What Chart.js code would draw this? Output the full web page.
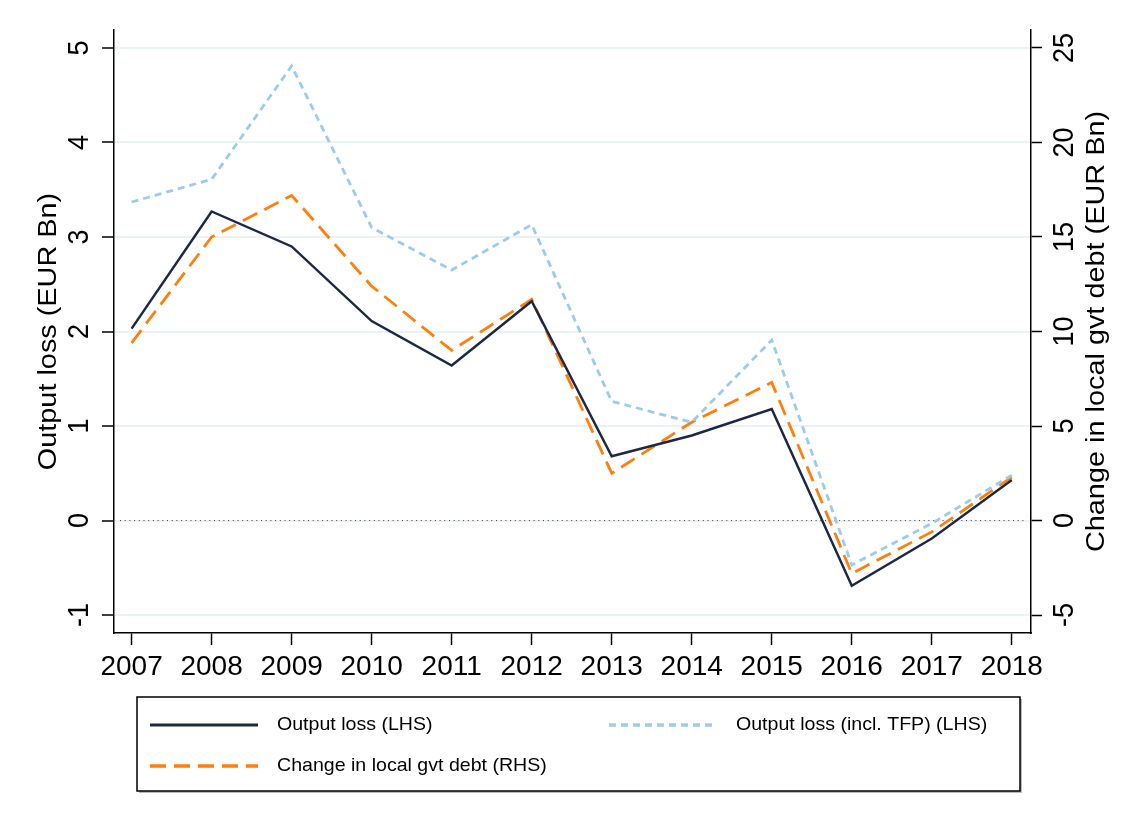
<!DOCTYPE html>
<html>
<head>
<meta charset="utf-8">
<script src="https://cdn.jsdelivr.net/npm/chart.js@4"></script>
<style>
  body { margin: 0; background: #fff; }
  #wrap { width: 1144px; height: 832px; }
</style>
</head>
<body>
<div id="wrap"><canvas id="myChart"></canvas></div>
<script>
// years along the x-axis
var years = [2007, 2008, 2009, 2010, 2011, 2012, 2013, 2014, 2015, 2016, 2017, 2018];
// left axis series (EUR Bn)
var outputLoss = [2.03, 3.27, 2.90, 2.11, 1.64, 2.32, 0.68, 0.90, 1.18, -0.69, -0.19, 0.43];
var outputLossTfp = [3.37, 3.61, 4.81, 3.10, 2.65, 3.13, 1.26, 1.04, 1.91, -0.47, -0.03, 0.48];
// right axis series (EUR Bn)
var debtChange = [9.4, 15.0, 17.2, 12.4, 9.0, 11.7, 2.5, 5.2, 7.3, -2.8, -0.6, 2.3];
// tick labels
var leftTicks = [-1, 0, 1, 2, 3, 4, 5];
var rightTicks = [-5, 0, 5, 10, 15, 20, 25];

var FONT = '"Liberation Sans", Arial, sans-serif';

function pts(vals) {
  return years.map(function (y, i) { return { x: y, y: vals[i] }; });
}

// text turned to read bottom-to-top, sx stretches along the text
function rotText(ctx, txt, x, y, sx) {
  ctx.save();
  ctx.translate(x, y);
  ctx.rotate(-Math.PI / 2);
  ctx.scale(sx || 1, 1);
  ctx.fillText(txt, 0, 0);
  ctx.restore();
}

// zero reference line (dotted)
var zeroLine = {
  id: 'zeroLine',
  beforeDatasetsDraw: function (chart) {
    var ctx = chart.ctx, a = chart.chartArea;
    var y0 = chart.scales.yLeft.getPixelForValue(0);
    ctx.save();
    ctx.strokeStyle = '#444';
    ctx.lineWidth = 1;
    ctx.setLineDash([1, 3.7]);
    ctx.beginPath();
    ctx.moveTo(a.left + 6, y0);
    ctx.lineTo(a.right - 6, y0);
    ctx.stroke();
    ctx.restore();
  }
};

// rotated y tick labels, axis titles and boxed legend
var extras = {
  id: 'extras',
  afterDraw: function (chart) {
    var ctx = chart.ctx;
    var yL = chart.scales.yLeft, yR = chart.scales.yRight;
    var mid = (chart.chartArea.top + chart.chartArea.bottom) / 2;
    ctx.save();
    ctx.fillStyle = '#000';
    ctx.textAlign = 'center';
    ctx.textBaseline = 'middle';
    ctx.font = '30px ' + FONT;
    leftTicks.forEach(function (v) { rotText(ctx, String(v), 80, yL.getPixelForValue(v), 0.9); });
    rightTicks.forEach(function (v) { rotText(ctx, String(v), 1065, yR.getPixelForValue(v), 0.9); });
    ctx.font = '26px ' + FONT;
    rotText(ctx, 'Output loss (EUR Bn)', 49, mid, 1.11);
    rotText(ctx, 'Change in local gvt debt (EUR Bn)', 1097, mid, 1.11);

    // legend box
    var bx = 137, by = 697, bw = 883, bh = 94;
    ctx.fillStyle = '#bbb';
    ctx.fillRect(bx + 2, by + 2, bw, bh);
    ctx.fillStyle = '#fff';
    ctx.fillRect(bx, by, bw, bh);
    ctx.strokeStyle = '#000';
    ctx.lineWidth = 1.5;
    ctx.strokeRect(bx, by, bw, bh);

    var items = [
      { ds: 0, x: 150, y: 725 },
      { ds: 1, x: 609, y: 725 },
      { ds: 2, x: 150, y: 766 }
    ];
    ctx.font = '19px ' + FONT;
    ctx.textAlign = 'left';
    items.forEach(function (it) {
      var d = chart.data.datasets[it.ds];
      ctx.save();
      ctx.strokeStyle = d.borderColor;
      ctx.lineWidth = d.borderWidth + 0.5;
      ctx.setLineDash(d.borderDash || []);
      ctx.beginPath();
      ctx.moveTo(it.x, it.y);
      ctx.lineTo(it.x + 108, it.y);
      ctx.stroke();
      ctx.restore();
      ctx.fillStyle = '#000';
      ctx.save();
      ctx.translate(it.x + 127, it.y);
      ctx.scale(1.03, 1);
      ctx.fillText(d.label, 0, 0);
      ctx.restore();
    });
    ctx.restore();
  }
};

var ctx = document.getElementById('myChart');

var myChart = new Chart(ctx, {
  type: 'line',
  data: {
    datasets: [
      {
        label: 'Output loss (LHS)',
        data: pts(outputLoss),
        borderColor: '#1c2844',
        borderWidth: 2.5,
        yAxisID: 'yLeft',
        pointRadius: 0,
        fill: false
      },
      {
        label: 'Output loss (incl. TFP) (LHS)',
        data: pts(outputLossTfp),
        borderColor: '#9ccbeb',
        borderWidth: 2.8,
        borderDash: [7, 5],
        yAxisID: 'yLeft',
        pointRadius: 0,
        fill: false
      },
      {
        label: 'Change in local gvt debt (RHS)',
        data: pts(debtChange),
        borderColor: '#ff7f0e',
        borderWidth: 2.8,
        borderDash: [16, 8],
        yAxisID: 'yRight',
        pointRadius: 0,
        fill: false
      }
    ]
  },
  options: {
    responsive: true,
    maintainAspectRatio: false,
    animation: false,
    layout: { padding: { top: 30, left: 0, right: 0, bottom: 0 } },
    plugins: {
      legend: { display: false },
      tooltip: { enabled: false }
    },
    scales: {
      x: {
        type: 'linear',
        min: 2006.78,
        max: 2018.24,
        afterBuildTicks: function (s) { s.ticks = years.map(function (v) { return { value: v }; }); },
        afterFit: function (s) { s.height = 199; },
        grid: { drawOnChartArea: false, drawTicks: true, tickLength: 12, tickColor: '#000', tickWidth: 1.5 },
        border: { display: true, color: '#000', width: 1.5 },
        ticks: {
          color: '#000',
          font: { family: FONT, size: 28 },
          padding: 5,
          maxRotation: 0,
          autoSkip: false,
          callback: function (v) { return String(v); }
        }
      },
      yLeft: {
        type: 'linear',
        position: 'left',
        min: -1.19,
        max: 5.19,
        afterBuildTicks: function (s) { s.ticks = leftTicks.map(function (v) { return { value: v }; }); },
        afterFit: function (s) { s.width = 114; },
        grid: { color: '#eaf2f3', lineWidth: 2, drawTicks: true, tickLength: 12, tickColor: '#000', tickWidth: 1.5 },
        border: { display: true, color: '#000', width: 1.5 },
        ticks: { display: false }
      },
      yRight: {
        type: 'linear',
        position: 'right',
        min: -5.95,
        max: 25.95,
        afterBuildTicks: function (s) { s.ticks = rightTicks.map(function (v) { return { value: v }; }); },
        afterFit: function (s) { s.width = 113; },
        grid: { drawOnChartArea: false, drawTicks: true, tickLength: 11, tickColor: '#000', tickWidth: 1.5 },
        border: { display: true, color: '#000', width: 1.5 },
        ticks: { display: false }
      }
    }
  },
  plugins: [zeroLine, extras]
});
</script>
</body>
</html>
